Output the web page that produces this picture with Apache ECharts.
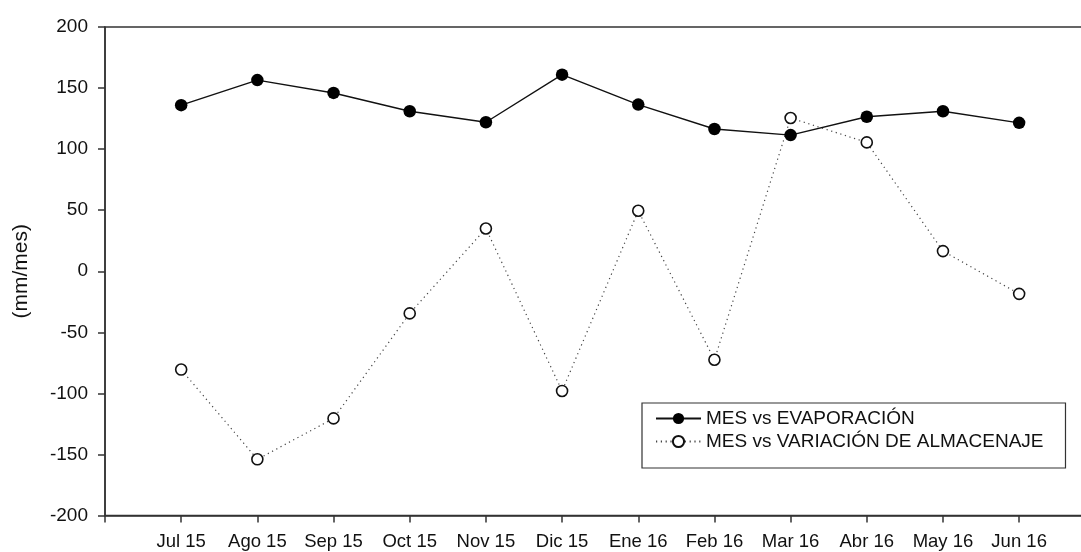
<!DOCTYPE html>
<html>
<head>
<meta charset="utf-8">
<script src="https://cdn.jsdelivr.net/npm/echarts@6/dist/echarts.min.js"></script>
<style>
  html, body { margin: 0; padding: 0; background: #fff; }
  #chart { width: 1081px; height: 552px; }
</style>
</head>
<body>
<div id="chart"></div>
<script>
// Month labels along the x axis
const months = ['Jul 15', 'Ago 15', 'Sep 15', 'Oct 15', 'Nov 15', 'Dic 15',
                'Ene 16', 'Feb 16', 'Mar 16', 'Abr 16', 'May 16', 'Jun 16'];

// Monthly evaporation (mm/mes)
const evaporacion = [136, 156.5, 146, 131, 122, 161, 136.5, 116.5, 111.5, 126.5, 131, 121.5];

// Monthly storage change (mm/mes)
const variacion = [-80.5, -154, -120.5, -34.5, 35, -98, 49.5, -72.5, 125.5, 105.5, 16.5, -18.5];

// Y axis range and step
const yMin = -200, yMax = 200, yStep = 50;

const FONT = '"Liberation Sans", Arial, sans-serif';
const AXIS_COLOR = '#333';

const pairs = arr => arr.map((v, i) => [i, v]);

const chart = echarts.init(document.getElementById('chart'), null, { renderer: 'canvas' });

chart.setOption({
  animation: false,
  backgroundColor: '#fff',
  textStyle: { fontFamily: FONT },
  grid: {
    left: 105,
    top: 27,
    bottom: 36.5,
    width: 1066.5,
    outerBoundsMode: 'none',
    containLabel: false,
    show: true,
    borderColor: AXIS_COLOR,
    borderWidth: 1.5,
    backgroundColor: 'transparent'
  },
  xAxis: {
    type: 'value',
    min: -1,
    max: 13,
    interval: 1,
    splitLine: { show: false },
    axisLine: { show: true, onZero: false, lineStyle: { color: AXIS_COLOR, width: 1.5 } },
    axisTick: { show: true, inside: false, length: 7, lineStyle: { color: AXIS_COLOR, width: 1.5 } },
    axisLabel: {
      show: true,
      margin: 17,
      fontSize: 18.5,
      color: '#111',
      fontFamily: FONT,
      showMinLabel: true,
      showMaxLabel: true,
      formatter: v => (months[v] !== undefined ? months[v] : '')
    }
  },
  yAxis: {
    type: 'value',
    min: yMin,
    max: yMax,
    interval: yStep,
    name: '(mm/mes)',
    nameLocation: 'middle',
    nameRotate: 90,
    nameGap: 73,
    nameTextStyle: { fontSize: 21, color: '#111', fontFamily: FONT },
    splitLine: { show: false },
    axisLine: { show: true, onZero: false, lineStyle: { color: AXIS_COLOR, width: 1.5 } },
    axisTick: { show: true, inside: false, length: 7, lineStyle: { color: AXIS_COLOR, width: 1.5 } },
    axisLabel: { margin: 17, fontSize: 19, color: '#111', fontFamily: FONT }
  },
  legend: {
    orient: 'vertical',
    left: 642,
    top: 403,
    padding: [6, 22, 17, 13],
    itemWidth: 45,
    itemHeight: 14,
    itemGap: 4,
    borderColor: AXIS_COLOR,
    borderWidth: 1.2,
    backgroundColor: '#fff',
    textStyle: { fontSize: 19, color: '#111', fontFamily: FONT },
    data: ['MES vs EVAPORACIÓN', 'MES vs VARIACIÓN DE ALMACENAJE']
  },
  series: [
    {
      name: 'MES vs VARIACIÓN DE ALMACENAJE',
      type: 'line',
      data: pairs(variacion),
      symbol: 'circle',
      symbolSize: 11,
      showAllSymbol: true,
      itemStyle: { color: '#fff', borderColor: '#111', borderWidth: 1.6 },
      lineStyle: { color: '#444', width: 1.2, type: [1.2, 3.6] },
      z: 2
    },
    {
      name: 'MES vs EVAPORACIÓN',
      type: 'line',
      data: pairs(evaporacion),
      symbol: 'circle',
      symbolSize: 12.5,
      showAllSymbol: true,
      itemStyle: { color: '#000', borderColor: '#000', borderWidth: 0 },
      lineStyle: { color: '#111', width: 1.4, type: 'solid' },
      z: 3
    }
  ]
});
</script>
</body>
</html>
